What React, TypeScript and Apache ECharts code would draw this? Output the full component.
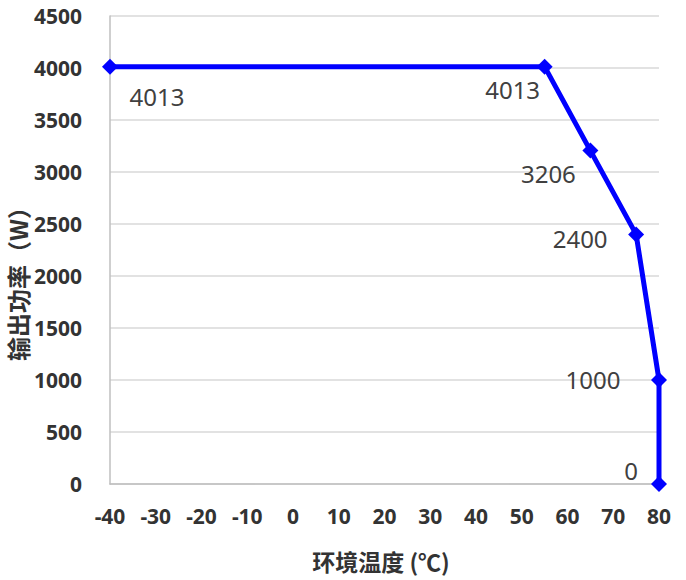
import React, { useEffect, useRef } from "react";
import * as echarts from "echarts";

const temps = [-40, 55, 65, 75, 80, 80];
const powers = [4013, 4013, 3206, 2400, 1000, 0];
const xName = "环境温度 (℃)";
const yName = "输出功率（W）";

const labelOffsets: [number, number][] = [
  [47, 30],
  [-32, 23],
  [-42, 23],
  [-56, 4],
  [-66, -1],
  [-28, -14],
];

export default function App() {
  const ref = useRef<HTMLDivElement>(null);
  useEffect(() => {
    if (!ref.current) return;
    const chart = echarts.init(ref.current, undefined, { renderer: "svg" });
    const data = temps.map((t, i) => ({
      value: [t, powers[i]],
      label: {
        show: true,
        position: "inside",
        align: "center",
        verticalAlign: "middle",
        offset: labelOffsets[i],
      },
    }));
    chart.setOption({
      animation: false,
      backgroundColor: "#ffffff",
      grid: { left: 110, right: 27, top: 16, bottom: 96, containLabel: false, outerBoundsMode: "none" },
      graphic: [
        {
          type: "text",
          x: 17,
          y: 278,
          rotation: Math.PI / 2,
          style: {
            text: yName,
            fontFamily: "Noto Sans CJK SC",
            fontWeight: "bold",
            fontSize: 24,
            fill: "#333",
            align: "center",
            verticalAlign: "middle",
          },
        },
        {
          type: "text",
          x: 381,
          y: 561,
          style: {
            text: xName,
            fontFamily: "Noto Sans CJK SC",
            fontWeight: "bold",
            fontSize: 23,
            fill: "#333",
            align: "center",
            verticalAlign: "middle",
          },
        },
      ],
      xAxis: {
        type: "value",
        min: -40,
        max: 80,
        interval: 10,
        axisLine: { show: true, onZero: false, lineStyle: { color: "#bfbfbf", width: 1.5 } },
        axisTick: { show: false },
        splitLine: { show: false },
        axisLabel: { fontFamily: "Noto Sans", fontWeight: "bold", fontSize: 21, color: "#333", margin: 21 },
      },
      yAxis: {
        type: "value",
        min: 0,
        max: 4500,
        interval: 500,
        axisLine: { show: true, onZero: false, lineStyle: { color: "#bfbfbf", width: 1.5 } },
        axisTick: { show: false },
        splitLine: { show: true, lineStyle: { color: "#d9d9d9", width: 1.5 } },
        axisLabel: {
          fontFamily: "Noto Sans",
          fontWeight: "bold",
          fontSize: 21,
          color: "#333",
          margin: 28,
          formatter: (v: number) => String(v),
        },
      },
      series: [
        {
          type: "line",
          data,
          symbol: "diamond",
          symbolSize: 16,
          lineStyle: { color: "#0000ff", width: 5 },
          itemStyle: { color: "#0000ff" },
          label: { fontFamily: "Noto Sans", fontSize: 24, color: "#404040" },
        },
      ],
    });
    return () => chart.dispose();
  }, []);
  return <div ref={ref} style={{ width: 686, height: 580, position: "absolute", left: 0, top: 0 }} />;
}
